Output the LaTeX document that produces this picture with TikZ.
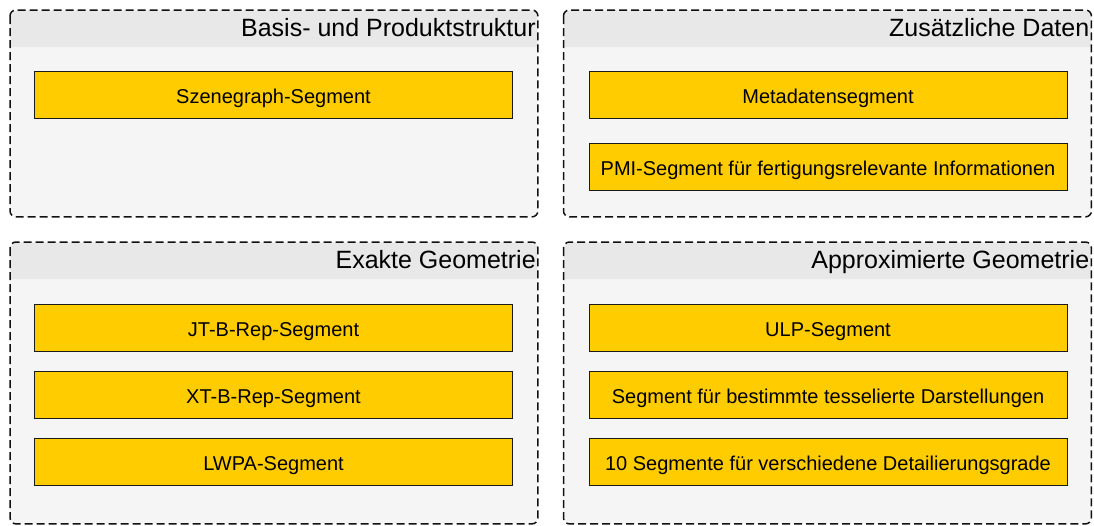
\documentclass[tikz,border=0pt]{standalone}
\usepackage{fontspec}
\setmainfont{Liberation Sans}
\definecolor{groupfill}{HTML}{F5F5F5}
\definecolor{headfill}{HTML}{E8E8E8}
\definecolor{segfill}{HTML}{FFCC00}
\definecolor{segline}{HTML}{1A1A1A}
\definecolor{grpline}{HTML}{111111}
\begin{document}
\begin{tikzpicture}[x=1pt,y=-1pt,
  groupbox/.style={fill=groupfill, rounded corners=6pt, anchor=north west, inner sep=0pt, minimum width=527.5pt},
  groupline/.style={draw=grpline, line width=1.5pt, dash pattern=on 8pt off 4pt, rounded corners=6pt},
  headband/.style={fill=headfill},
  grouptitle/.style={anchor=north east, font=\fontsize{25}{28}\selectfont, inner sep=0pt, text=black},
  segbox/.style={draw=segline, fill=segfill, line width=1pt, minimum width=478pt, minimum height=47pt, inner sep=0pt, text height=16.5pt, text depth=0pt, font=\fontsize{20}{23}\selectfont, text=black}
]
\useasboundingbox (0,0) rectangle (1094,525);

% group boxes
\node[groupbox, minimum height=206.5pt] (g1) at (10,10) {};
\node[groupbox, minimum height=206.5pt] (g2) at (563.5,10) {};
\node[groupbox, minimum height=281.5pt] (g3) at (10,242) {};
\node[groupbox, minimum height=281.5pt] (g4) at (563.5,242) {};

% header bands and dashed borders
\foreach \g in {g1,g2,g3,g4}{
  \fill[headband, rounded corners=5pt] ([xshift=0.7pt,yshift=-0.7pt]\g.north west) -- ([xshift=-0.7pt,yshift=-0.7pt]\g.north east) [sharp corners]-- ([xshift=-0.7pt,yshift=-37pt]\g.north east) -- ([xshift=0.7pt,yshift=-37pt]\g.north west) [rounded corners=5pt] -- cycle;
  \draw[groupline] (\g.north west) rectangle (\g.south east);
}

% titles
\node[grouptitle] (t1) at ([xshift=-2pt,yshift=-8pt]g1.north east) {Basis- und Produktstruktur};
\node[grouptitle] (t2) at ([xshift=-2pt,yshift=-8pt]g2.north east) {Zusätzliche Daten};
\node[grouptitle] (t3) at ([xshift=-2pt,yshift=-8pt]g3.north east) {Exakte Geometrie};
\node[grouptitle] (t4) at ([xshift=-2pt,yshift=-8pt]g4.north east) {Approximierte Geometrie};

% segments
\node[segbox] (s1) at (273.5,95) {Szenegraph-Segment};
\node[segbox] (s2) at (828,95) {Metadatensegment};
\node[segbox] (s3) at (828,167) {PMI-Segment für fertigungsrelevante Informationen};
\node[segbox] (s4) at (273.5,328) {JT-B-Rep-Segment};
\node[segbox] (s5) at (273.5,395) {XT-B-Rep-Segment};
\node[segbox] (s6) at (273.5,462) {LWPA-Segment};
\node[segbox] (s7) at (828,328) {ULP-Segment};
\node[segbox] (s8) at (828,395) {Segment für bestimmte tesselierte Darstellungen};
\node[segbox] (s9) at (828,462) {10 Segmente für verschiedene Detailierungsgrade};
\end{tikzpicture}
\end{document}
